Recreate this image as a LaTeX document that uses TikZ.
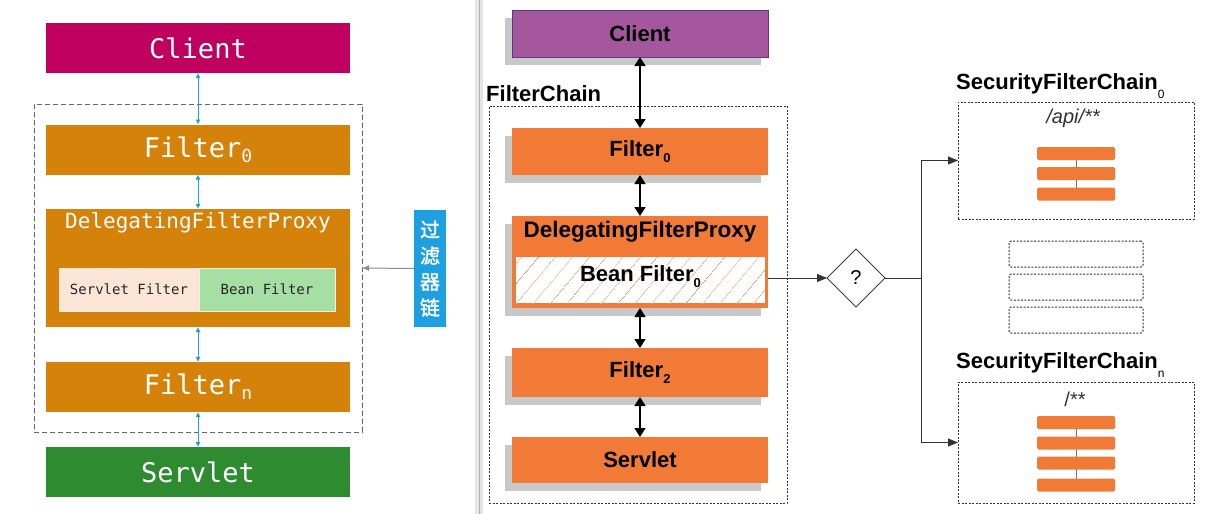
\documentclass[tikz,border=0pt]{standalone}
\usepackage{fontspec}
\newfontfamily\monof{DejaVu Sans Mono}
\newfontfamily\arialf{Liberation Sans}
\newfontfamily\cjkf{Noto Sans CJK SC}[FakeBold=1.5]
\usetikzlibrary{shapes.geometric,arrows.meta,patterns.meta,shadows}
\definecolor{lclient}{HTML}{C0005F}
\definecolor{lorange}{HTML}{D4820A}
\definecolor{lgreen}{HTML}{2E8B30}
\definecolor{lpeach}{HTML}{FBE5D6}
\definecolor{lmint}{HTML}{A6DFA4}
\definecolor{lblue}{HTML}{1E9FE0}
\definecolor{rpurple}{HTML}{A5579E}
\definecolor{rpurpled}{HTML}{5B3A8C}
\definecolor{rorange}{HTML}{F27A37}
\definecolor{shadowg}{HTML}{C8C8C8}
\newcommand{\lsub}[1]{\raisebox{-5pt}{\fontsize{18}{18}\selectfont #1}}
\newcommand{\rsub}[1]{\raisebox{-6pt}{\fontsize{13}{13}\selectfont #1}}
\newcommand{\tsub}[1]{\raisebox{-9pt}{\fontsize{12}{12}\selectfont\mdseries #1}}
\begin{document}
\begin{tikzpicture}[x=1pt,y=-1pt,
  lbox/.style={rectangle, inner sep=0pt, outer sep=0pt, minimum width=304pt, minimum height=50pt, text=white, font=\monof\fontsize{27}{27}\selectfont},
  larr/.style={lblue, line width=0.8pt, {Latex[length=5pt,width=5pt]}-{Latex[length=5pt,width=5pt]}},
  rbox/.style={rectangle, fill=rorange, inner sep=0pt, outer sep=0pt, minimum width=256pt, minimum height=47pt, text=black, font=\arialf\bfseries\fontsize{22}{22}\selectfont, drop shadow={shadow xshift=-7pt, shadow yshift=-8pt, fill=shadowg, opacity=1}},
  rarr/.style={black, line width=1.6pt, {Triangle[length=9pt,width=11pt]}-{Triangle[length=9pt,width=11pt]}},
  farr/.style={black!80, line width=0.9pt, -{Triangle[length=10pt,width=8pt]}},
  dotbox/.style={draw=black!80, line width=1pt, dash pattern=on 2pt off 1.5pt, inner sep=0pt, outer sep=0pt},
  bar/.style={fill=rorange, rounded corners=1.5pt, minimum width=78pt, minimum height=13pt, inner sep=0pt, outer sep=0pt},
  ttl/.style={anchor=base west, inner sep=0pt, font=\arialf\bfseries\fontsize{22}{22}\selectfont}
]
\useasboundingbox (0,0) rectangle (1216,514);
\fill[white] (0,0) rectangle (1216,514);
% divider
\fill[black!10] (475,0) rectangle (483,514);
\draw[black!30, line width=1pt] (479,0) -- (479,514);

% ===== left panel =====
\node[draw=black!60, dashed, dash pattern=on 5pt off 3pt, line width=0.9pt, minimum width=328pt, minimum height=328pt, inner sep=0pt, outer sep=0pt] (lchain) at (198,268) {};
\node[lbox, fill=lclient] (lc) at (198,48) {Client};
\node[lbox, fill=lorange] (lf0) at (198,149.5) {Filter\lsub{0}};
\node[lbox, fill=lorange, minimum height=118pt] (ldfp) at (198,268) {};
\node[inner sep=0pt, text=white, font=\monof\fontsize{21}{21}\selectfont] (ldfpt) at (198,223) {DelegatingFilterProxy};
\node[rectangle, fill=lpeach, draw=white!85!lorange, line width=0.8pt, minimum width=140pt, minimum height=43pt, inner sep=0pt, text=black!85, font=\monof\fontsize{14}{14}\selectfont] (lsf) at (129,289.5) {Servlet Filter};
\node[rectangle, fill=lmint, draw=white!85!lorange, line width=0.8pt, minimum width=136pt, minimum height=43pt, inner sep=0pt, text=black!85, font=\monof\fontsize{14}{14}\selectfont] (lbf) at (267,289.5) {Bean Filter};
\node[lbox, fill=lorange] (lfn) at (198,387) {Filter\lsub{n}};
\node[lbox, fill=lgreen] (ls) at (198,472) {Servlet};
\draw[larr] (lc.south) -- (lf0.north);
\draw[larr] (lf0.south) -- (ldfp.north);
\draw[larr] (ldfp.south) -- (lfn.north);
\draw[larr] (lfn.south) -- (ls.north);
\node[rectangle, fill=lblue, minimum width=32pt, minimum height=117pt, inner sep=0pt, text=white, align=center, font=\cjkf\fontsize{20}{26}\selectfont] (lab) at (430,268.5) {过\\滤\\器\\链};
\draw[black!45, line width=1pt, -{Latex[length=7pt,width=6pt]}] (lab.west) -- (lchain.east);

% ===== right panel =====
\node[dotbox, minimum width=298pt, minimum height=397pt] (rchain) at (638,304.5) {};
\node[ttl] (rct) at (486,101) {FilterChain};
\node[rbox, fill=rpurple, draw=rpurpled, line width=0.8pt] (rc) at (640,33.5) {Client};
\node[rbox] (rf0) at (640,151.5) {Filter\rsub{0}};
\node[rbox, minimum height=92pt] (rdfp) at (640,262) {};
\node[inner sep=0pt, font=\arialf\bfseries\fontsize{22.5}{22.5}\selectfont] (rdfpt) at (640,232) {DelegatingFilterProxy};
\node[rectangle, inner sep=0pt, outer sep=0pt, minimum width=249pt, minimum height=46pt, preaction={fill=white}, pattern={Lines[angle=50,distance=13pt,line width=0.7pt]}, pattern color=rorange!85] (rbf) at (640.5,280) {};
\node[inner sep=0pt, font=\arialf\bfseries\fontsize{22}{22}\selectfont] (rbft) at (640.5,277) {Bean Filter\rsub{0}};
\node[rbox, minimum height=49pt] (rf2) at (640,372.5) {Filter\rsub{2}};
\node[rbox, minimum height=46pt] (rs) at (640,460) {Servlet};
\draw[rarr] (rc.south) -- (rf0.north);
\draw[rarr] (rf0.south) -- (rdfp.north);
\draw[rarr] (rdfp.south) -- (rf2.north);
\draw[rarr] (rf2.south) -- (rs.north);

\node[diamond, draw=black!75, line width=0.9pt, minimum width=58pt, minimum height=58pt, inner sep=0pt, outer sep=0pt, font=\arialf\fontsize{20}{20}\selectfont] (q) at (856,278) {?};
\coordinate (j) at (921,278);
\draw[farr] (rdfp.east |- q.west) -- (q.west);
\draw[black!80, line width=0.9pt] (q.east) -- (j);

\node[dotbox, minimum width=236pt, minimum height=117pt] (b0) at (1076,160.5) {};
\node[dotbox, minimum width=236pt, minimum height=121pt] (bn) at (1076,442.5) {};
\draw[farr] (j) |- (b0.west);
\draw[farr] (j) |- (bn.west);
\node[ttl] (t0) at (956,89) {SecurityFilterChain\tsub{0}};
\node[ttl] (tn) at (956,368) {SecurityFilterChain\tsub{n}};
\node[inner sep=0pt, font=\arialf\itshape\fontsize{20}{20}\selectfont, text=black!80] (p0) at (1073,118) {/api/**};
\node[inner sep=0pt, font=\arialf\fontsize{20}{20}\selectfont, text=black!80] (pn) at (1075,399) {/**};

\node[dotbox, rounded corners=2pt, minimum width=134pt, minimum height=26pt] (m1) at (1076,254) {};
\node[dotbox, rounded corners=2pt, minimum width=134pt, minimum height=26pt] (m2) at (1076,287) {};
\node[dotbox, rounded corners=2pt, minimum width=134pt, minimum height=26pt] (m3) at (1076,320) {};

\draw[black!55, line width=0.8pt] (1076,153) -- (1076,194);
\node[bar] (a1) at (1076,153.5) {};
\node[bar] (a2) at (1076,173.5) {};
\node[bar] (a3) at (1076,194) {};
\draw[black!55, line width=0.8pt] (1076,422) -- (1076,485);
\node[bar] (c1) at (1076,422.5) {};
\node[bar] (c2) at (1076,443) {};
\node[bar] (c3) at (1076,463) {};
\node[bar] (c4) at (1076,485) {};
\end{tikzpicture}
\end{document}
